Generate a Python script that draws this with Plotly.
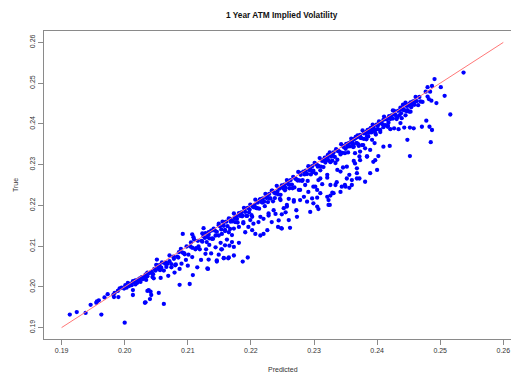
import plotly.graph_objects as go

# ---- data (Predicted, True) ----
low_pts = [(0.1913,0.1932),(0.1924,0.1938),(0.1938,0.1936),(0.1963,0.1932),(0.2000,0.1912),(0.1946,0.1956),
           (0.1955,0.1961),(0.1956,0.1964),(0.1959,0.1967),(0.1968,0.1974),(0.1973,0.1982),(0.1982,0.1980),
           (0.1984,0.1985),(0.1989,0.1990),(0.1992,0.1996),(0.1995,0.1998),(0.1999,0.1996),(0.1983,0.1975),
           (0.1990,0.1975),(0.2013,0.1980),(0.2013,0.1992),(0.2007,0.2002),(0.2005,0.2010),(0.2013,0.2011),
           (0.2019,0.2011),(0.2027,0.2024),(0.2029,0.2019),(0.2032,0.1961),(0.2036,0.1990),(0.2038,0.1992),
           (0.2041,0.1988),(0.2042,0.1980),(0.2040,0.1970),(0.2020,0.2013),(0.2022,0.2018),(0.2024,0.2021),
           (0.2033,0.2030),(0.2036,0.2026),(0.2039,0.2034),(0.2043,0.2037),(0.2045,0.2031),(0.2047,0.2044),
           (0.2049,0.2040),(0.2001,0.2004),(0.2003,0.1998),(0.2009,0.2007),(0.2011,0.2004),(0.2016,0.2015),
           (0.2017,0.2006),(0.2025,0.2012),(0.2030,0.2023),(0.2034,0.2017)]

lowmid_pts = [(0.2013,0.2014),(0.2018,0.2016),(0.2020,0.2010),(0.2029,0.2023),(0.2036,0.2035),(0.2034,0.2026),
              (0.2044,0.2032),(0.2044,0.2024),(0.2046,0.2021),(0.2051,0.2067),(0.2051,0.2052),(0.2055,0.2053),
              (0.2057,0.2022),(0.2058,0.2047),(0.2064,0.2057),(0.2066,0.2049),(0.2069,0.2027),(0.2071,0.2063),
              (0.2074,0.2048),(0.2078,0.2069),(0.2079,0.2035),(0.2081,0.2055),(0.2085,0.2072),(0.2087,0.2044),
              (0.2090,0.2057),(0.2092,0.2130),(0.2094,0.2083),(0.2097,0.2066),(0.2100,0.2052),(0.2105,0.2109),
              (0.2107,0.2129),(0.2107,0.2073),(0.2108,0.2029),(0.2112,0.2092),(0.2115,0.2048),(0.2117,0.2099),
              (0.2121,0.2066),(0.2123,0.2111),(0.2123,0.2131),(0.2127,0.2120),(0.2129,0.2092),(0.2131,0.2045),
              (0.2134,0.2103),(0.2137,0.2082),(0.2139,0.2119),(0.2144,0.2097),(0.2146,0.2065),(0.2149,0.2126),
              (0.2152,0.2108),(0.2154,0.2092),(0.2157,0.2071),(0.2159,0.2137),(0.2162,0.2116),(0.2164,0.2070),
              (0.2166,0.2101),(0.2168,0.2160),(0.2170,0.2127),(0.2173,0.2098),(0.2174,0.2169),(0.2062,0.1958),
              (0.2033,0.1962),(0.2087,0.2005),(0.2103,0.2007),(0.2054,0.1985),(0.2109,0.2122),(0.2125,0.2144),
              (0.2133,0.2128)]

core_a = [(0.2050,0.2054),(0.2053,0.2045),(0.2056,0.2041),(0.2059,0.2060),(0.2062,0.2040),(0.2065,0.2060),
          (0.2068,0.2057),(0.2071,0.2077),(0.2074,0.2056),(0.2077,0.2074),(0.2080,0.2053),(0.2083,0.2074),
          (0.2086,0.2085),(0.2089,0.2093),(0.2092,0.2084),(0.2095,0.2080),(0.2098,0.2099),(0.2101,0.2079),
          (0.2104,0.2099),(0.2107,0.2096),(0.2110,0.2116),(0.2113,0.2095),(0.2116,0.2113),(0.2119,0.2092),
          (0.2122,0.2113),(0.2125,0.2124),(0.2128,0.2132),(0.2131,0.2123),(0.2134,0.2119),(0.2137,0.2138),
          (0.2140,0.2118),(0.2143,0.2138),(0.2146,0.2135),(0.2149,0.2155)]

core_b = [(0.2151,0.2149),(0.2153,0.2141),(0.2155,0.2160),(0.2157,0.2150),(0.2159,0.2140),(0.2161,0.2160),
          (0.2163,0.2149),(0.2165,0.2168),(0.2167,0.2142),(0.2169,0.2163),(0.2171,0.2161),(0.2173,0.2180),
          (0.2175,0.2159),(0.2177,0.2173),(0.2179,0.2158),(0.2181,0.2181),(0.2183,0.2174),(0.2185,0.2183),
          (0.2187,0.2175),(0.2189,0.2194),(0.2191,0.2184),(0.2193,0.2174),(0.2195,0.2194),(0.2197,0.2183),
          (0.2199,0.2202),(0.2201,0.2176),(0.2203,0.2197),(0.2205,0.2195),(0.2207,0.2214),(0.2209,0.2193),
          (0.2211,0.2207),(0.2213,0.2192),(0.2215,0.2215),(0.2217,0.2208),(0.2219,0.2217),(0.2221,0.2209),
          (0.2223,0.2228),(0.2225,0.2218),(0.2227,0.2208),(0.2229,0.2228),(0.2231,0.2217),(0.2233,0.2236),
          (0.2235,0.2210),(0.2237,0.2231),(0.2239,0.2229),(0.2241,0.2248),(0.2243,0.2227),(0.2245,0.2241),
          (0.2247,0.2226),(0.2249,0.2249),(0.2251,0.2242),(0.2253,0.2251),(0.2255,0.2243),(0.2257,0.2262),
          (0.2259,0.2252),(0.2261,0.2242),(0.2263,0.2262),(0.2265,0.2251),(0.2267,0.2270),(0.2269,0.2244),
          (0.2271,0.2265),(0.2273,0.2263),(0.2275,0.2282),(0.2277,0.2261),(0.2279,0.2275),(0.2281,0.2260),
          (0.2283,0.2283),(0.2285,0.2276),(0.2287,0.2285),(0.2289,0.2277),(0.2291,0.2296),(0.2293,0.2286),
          (0.2295,0.2276),(0.2297,0.2296),(0.2299,0.2285),(0.2301,0.2304),(0.2303,0.2278),(0.2305,0.2299),
          (0.2307,0.2297),(0.2309,0.2316),(0.2311,0.2295),(0.2313,0.2309),(0.2315,0.2294),(0.2317,0.2317),
          (0.2319,0.2310),(0.2321,0.2319),(0.2323,0.2311),(0.2325,0.2330),(0.2327,0.2320),(0.2329,0.2310),
          (0.2331,0.2330),(0.2333,0.2319),(0.2335,0.2338),(0.2337,0.2312),(0.2339,0.2333),(0.2341,0.2331),
          (0.2343,0.2350),(0.2345,0.2329),(0.2347,0.2343),(0.2349,0.2328),(0.2351,0.2351),(0.2353,0.2344),
          (0.2355,0.2353),(0.2357,0.2345),(0.2359,0.2364),(0.2361,0.2354),(0.2363,0.2344),(0.2365,0.2364),
          (0.2367,0.2353),(0.2369,0.2372),(0.2371,0.2346),(0.2373,0.2367),(0.2375,0.2365),(0.2377,0.2384),
          (0.2379,0.2363),(0.2381,0.2377),(0.2383,0.2362),(0.2385,0.2385),(0.2387,0.2378),(0.2389,0.2387),
          (0.2391,0.2379),(0.2393,0.2398),(0.2395,0.2388),(0.2397,0.2378),(0.2399,0.2398),(0.2401,0.2387),
          (0.2403,0.2406),(0.2405,0.2380),(0.2407,0.2401),(0.2409,0.2399),(0.2411,0.2418),(0.2413,0.2397),
          (0.2415,0.2411),(0.2417,0.2396),(0.2419,0.2419),(0.2421,0.2412),(0.2423,0.2421),(0.2425,0.2413),
          (0.2427,0.2432),(0.2429,0.2422),(0.2431,0.2412),(0.2433,0.2432),(0.2435,0.2421),(0.2437,0.2440),
          (0.2439,0.2414),(0.2441,0.2435),(0.2443,0.2433),(0.2445,0.2452),(0.2447,0.2431),(0.2449,0.2445),
          (0.2451,0.2430),(0.2453,0.2453),(0.2455,0.2446),(0.2457,0.2455),(0.2459,0.2447),(0.2461,0.2466),
          (0.2463,0.2456),(0.2465,0.2446),(0.2467,0.2466),(0.2469,0.2455)]

core_c = [(0.2182,0.2179),(0.2186,0.2173),(0.2190,0.2192),(0.2194,0.2174),(0.2198,0.2190),(0.2202,0.2172),
          (0.2206,0.2201),(0.2210,0.2193),(0.2214,0.2214),(0.2218,0.2207),(0.2222,0.2198),(0.2226,0.2223),
          (0.2230,0.2217),(0.2234,0.2236),(0.2238,0.2218),(0.2242,0.2234),(0.2246,0.2216),(0.2250,0.2245),
          (0.2254,0.2237),(0.2258,0.2258),(0.2262,0.2251),(0.2266,0.2242),(0.2270,0.2267),(0.2274,0.2261),
          (0.2278,0.2280),(0.2282,0.2262),(0.2286,0.2278),(0.2290,0.2260),(0.2294,0.2289),(0.2298,0.2281),
          (0.2302,0.2302),(0.2306,0.2295),(0.2310,0.2286),(0.2314,0.2311),(0.2318,0.2305),(0.2322,0.2324),
          (0.2326,0.2306),(0.2330,0.2322),(0.2334,0.2304),(0.2338,0.2333),(0.2342,0.2325),(0.2346,0.2346),
          (0.2350,0.2339),(0.2354,0.2330),(0.2358,0.2355),(0.2362,0.2349),(0.2366,0.2368),(0.2370,0.2350),
          (0.2374,0.2366),(0.2378,0.2348),(0.2382,0.2377),(0.2386,0.2369),(0.2390,0.2390),(0.2394,0.2383),
          (0.2398,0.2374),(0.2402,0.2399)]

tail_pts = [(0.2132,0.2044),(0.2146,0.2062),(0.2157,0.2070),(0.2165,0.2072),(0.2173,0.2077),(0.2187,0.2062),
            (0.2195,0.2072),(0.2149,0.2079),(0.2133,0.2067),(0.2153,0.2092),(0.2159,0.2102),(0.2181,0.2108),
            (0.2170,0.2110),(0.2207,0.2130),(0.2215,0.2126),(0.2220,0.2130),(0.2226,0.2139),(0.2244,0.2163),
            (0.2248,0.2144),(0.2202,0.2139),(0.2191,0.2134),(0.2196,0.2147),(0.2181,0.2147),(0.2173,0.2143),
            (0.2165,0.2134),(0.2154,0.2130),(0.2144,0.2126),(0.2138,0.2118),(0.2130,0.2110),(0.2128,0.2081),
            (0.2233,0.2159),(0.2239,0.2179),(0.2228,0.2175),(0.2220,0.2167),(0.2212,0.2159),(0.2204,0.2155),
            (0.2188,0.2159),(0.2178,0.2167),(0.2167,0.2167),(0.2157,0.2159),(0.2149,0.2151),(0.2141,0.2143),
            (0.2133,0.2134),
            (0.2249,0.2143),(0.2262,0.2145),(0.2272,0.2188),(0.2307,0.2191),(0.2323,0.2201),(0.2326,0.2224),
            (0.2331,0.2230),(0.2321,0.2221),(0.2305,0.2219),(0.2297,0.2217),(0.2299,0.2205),(0.2344,0.2246),
            (0.2356,0.2243),(0.2368,0.2266),(0.2360,0.2262),(0.2352,0.2266),(0.2342,0.2283),(0.2346,0.2293),
            (0.2336,0.2257),(0.2326,0.2250),(0.2313,0.2252),(0.2310,0.2266),(0.2321,0.2268),(0.2291,0.2233),
            (0.2284,0.2221),(0.2278,0.2213),(0.2268,0.2209),(0.2257,0.2201),(0.2252,0.2193),(0.2255,0.2183),
            (0.2249,0.2178),(0.2260,0.2216),(0.2276,0.2238),(0.2299,0.2246),(0.2305,0.2238),(0.2286,0.2250),
            (0.2368,0.2291),(0.2363,0.2309),(0.2372,0.2320),
            (0.2289,0.2209),(0.2302,0.2246),(0.2310,0.2230),(0.2329,0.2231),(0.2334,0.2250),(0.2350,0.2246),
            (0.2356,0.2275),(0.2368,0.2279),(0.2373,0.2311),(0.2384,0.2320),(0.2397,0.2311),(0.2381,0.2258),
            (0.2394,0.2307),(0.2365,0.2303),(0.2352,0.2295),(0.2337,0.2287),(0.2321,0.2275),(0.2307,0.2262),
            (0.2278,0.2238),(0.2268,0.2213),(0.2257,0.2197),(0.2247,0.2213),(0.2236,0.2188),(0.2228,0.2180),
            (0.2215,0.2172),(0.2199,0.2164),(0.2188,0.2156),(0.2260,0.2164),(0.2273,0.2172),(0.2294,0.2184),
            (0.2305,0.2197),(0.2323,0.2213),(0.2342,0.2233),(0.2360,0.2250),(0.2372,0.2266),(0.2389,0.2279),
            (0.2400,0.2287),(0.2325,0.2201),(0.2243,0.2147),(0.2349,0.2250)]

high_pts = [(0.2485,0.2355),(0.2452,0.2321),(0.2448,0.2361),(0.2402,0.2321),(0.2410,0.2344),(0.2420,0.2346),
            (0.2516,0.2423),(0.2471,0.2393),(0.2483,0.2393),(0.2478,0.2408),(0.2487,0.2385),(0.2452,0.2391),
            (0.2458,0.2389),(0.2443,0.2391),(0.2434,0.2387),(0.2427,0.2389),(0.2421,0.2387),(0.2437,0.2402),
            (0.2537,0.2526),(0.2491,0.2510),(0.2487,0.2493),(0.2480,0.2490),(0.2484,0.2479),(0.2501,0.2490),
            (0.2477,0.2479),(0.2480,0.2467),(0.2486,0.2457),(0.2482,0.2461),(0.2494,0.2451),(0.2507,0.2469),
            (0.2472,0.2454),(0.2459,0.2455),(0.2455,0.2452),(0.2451,0.2449),(0.2454,0.2441),(0.2448,0.2434),
            (0.2447,0.2444),(0.2441,0.2447),(0.2442,0.2436),(0.2453,0.2430),(0.2445,0.2421),(0.2436,0.2434),
            (0.2438,0.2426),(0.2425,0.2433),(0.2428,0.2423),(0.2432,0.2416),(0.2421,0.2416),(0.2416,0.2412),
            (0.2418,0.2403),(0.2410,0.2410),(0.2406,0.2403),(0.2401,0.2395),(0.2394,0.2393),(0.2389,0.2387),
            (0.2397,0.2385),(0.2405,0.2385),(0.2383,0.2381),(0.2379,0.2377),(0.2373,0.2373),(0.2368,0.2367),
            (0.2363,0.2362),(0.2360,0.2353),(0.2368,0.2353),(0.2376,0.2348),(0.2384,0.2369),(0.2392,0.2361),
            (0.2396,0.2353),(0.2410,0.2392),(0.2417,0.2393),(0.2362,0.2343),(0.2381,0.2340),(0.2389,0.2336),
            (0.2373,0.2332),(0.2365,0.2328),(0.2384,0.2320)]

edge_pt = [(0.2598, 0.2634)]   # point at the top border, mostly clipped

line_ends = [0.19, 0.26]
x_ticks = [0.19, 0.20, 0.21, 0.22, 0.23, 0.24, 0.25, 0.26]
y_ticks = [0.19, 0.20, 0.21, 0.22, 0.23, 0.24, 0.25, 0.26]

all_pts = low_pts + lowmid_pts + core_a + core_b + core_c + tail_pts + high_pts
predicted = [p[0] for p in all_pts]
true_vals = [p[1] for p in all_pts]

W, H = 511, 372
ML, MR, MT, MB = 44, 0, 31, 33

fig = go.Figure()
fig.add_trace(go.Scatter(x=predicted, y=true_vals, mode="markers",
                         marker=dict(color="#0000ff", size=4.3, line=dict(width=0)),
                         hoverinfo="skip", showlegend=False))
fig.add_trace(go.Scatter(x=[p[0] for p in edge_pt], y=[p[1] for p in edge_pt], mode="markers",
                         marker=dict(color="#0000ff", size=4.3, line=dict(width=0)),
                         cliponaxis=True, hoverinfo="skip", showlegend=False))
fig.add_trace(go.Scatter(x=line_ends, y=line_ends, mode="lines",
                         line=dict(color="#ff7878", width=1), hoverinfo="skip", showlegend=False))

axis_col = "#8a8a8a"
tick_font = dict(family="Liberation Sans, Arial, sans-serif", size=7, color="#333333")
fig.update_xaxes(range=[0.18721, 0.26122], tickvals=x_ticks, ticktext=[f"{v:.2f}" for v in x_ticks],
                 showgrid=False, zeroline=False, showline=True, linecolor=axis_col, linewidth=1,
                 mirror=True, ticks="outside", ticklen=5, tickcolor=axis_col, tickwidth=1,
                 tickfont=tick_font)
fig.update_yaxes(range=[0.1872, 0.2628], tickvals=y_ticks, ticktext=[f"{v:.2f}" for v in y_ticks],
                 showgrid=False, zeroline=False, showline=True, linecolor=axis_col, linewidth=1,
                 mirror=False, ticks="outside", ticklen=5, tickcolor=axis_col, tickwidth=1,
                 tickfont=tick_font, tickangle=-90)

plot_w = W - ML - MR
plot_h = H - MT - MB
def px(xp):
    return (xp - ML) / plot_w
def py(yp):
    return (H - MB - yp) / plot_h

fig.add_annotation(text="<b>1 Year ATM Implied Volatility</b>", xref="paper", yref="paper",
                   x=px(281.7), y=py(14.7), showarrow=False, xanchor="center", yanchor="middle",
                   font=dict(family="Liberation Sans, Arial, sans-serif", size=8.3, color="#111111"))
fig.add_annotation(text="Predicted", xref="paper", yref="paper", x=px(283), y=py(369),
                   showarrow=False, xanchor="center", yanchor="middle",
                   font=dict(family="Liberation Sans, Arial, sans-serif", size=7, color="#333333"))
fig.add_annotation(text="True", xref="paper", yref="paper", x=px(15), y=py(185), textangle=-90,
                   showarrow=False, xanchor="center", yanchor="middle",
                   font=dict(family="Liberation Sans, Arial, sans-serif", size=7, color="#333333"))

fig.update_layout(width=W, height=H, margin=dict(l=ML, r=MR, t=MT, b=MB, pad=0),
                  paper_bgcolor="white", plot_bgcolor="white")

fig.write_html("out.html")
